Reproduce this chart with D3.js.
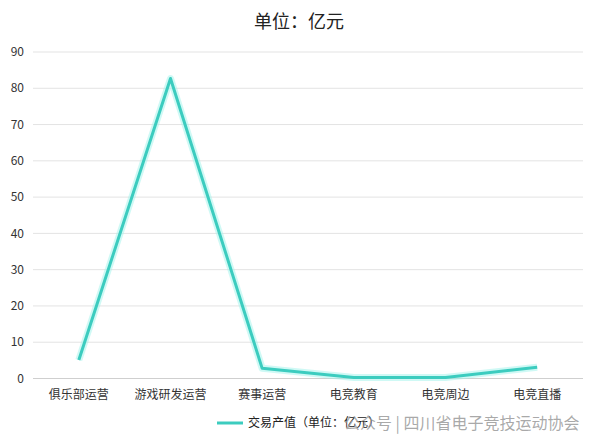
<!doctype html>
<html>
<head>
<meta charset="utf-8">
<style>
  body { margin: 0; background: #fff; }
  text { font-family: "Noto Sans CJK SC", "Noto Sans", sans-serif; }
</style>
<script src="https://d3js.org/d3.v7.min.js"></script>
</head>
<body>
<svg width="599" height="444"></svg>
<script>
var categories = ["俱乐部运营", "游戏研发运营", "赛事运营", "电竞教育", "电竞周边", "电竞直播"];
var values = [5.1, 82.7, 2.8, 0.3, 0.3, 3.1];
var yTicks = [0, 10, 20, 30, 40, 50, 60, 70, 80, 90];
var seriesName = "交易产值（单位：亿元）";

var svg = d3.select("svg");
var plotLeft = 33, plotRight = 583, plotTop = 52, plotBottom = 378.5;

var x = d3.scaleBand().domain(categories).range([plotLeft, plotRight]);
var y = d3.scaleLinear().domain([0, 90]).range([plotBottom, plotTop]);

svg.append("text")
    .attr("x", 299).attr("y", 28)
    .attr("text-anchor", "middle")
    .attr("font-size", "18px")
    .attr("fill", "#222")
    .text("单位：亿元");

// grid
svg.append("g").selectAll("line")
    .data(yTicks).enter().append("line")
    .attr("x1", plotLeft).attr("x2", plotRight)
    .attr("y1", d => y(d)).attr("y2", d => y(d))
    .attr("stroke", d => d === 0 ? "#cfcfcf" : "#e3e3e3")
    .attr("stroke-width", 1);

svg.append("g").selectAll("text")
    .data(yTicks).enter().append("text")
    .attr("x", 24).attr("y", d => y(d))
    .attr("dy", "0.35em")
    .attr("text-anchor", "end")
    .attr("font-size", "12px")
    .attr("fill", "#333")
    .text(d => d);

svg.append("g").selectAll("text")
    .data(categories).enter().append("text")
    .attr("x", d => x(d) + x.bandwidth() / 2)
    .attr("y", 399)
    .attr("text-anchor", "middle")
    .attr("font-size", "12px")
    .attr("fill", "#333")
    .text(d => d);

var line = d3.line()
    .x((d, i) => x(categories[i]) + x.bandwidth() / 2)
    .y(d => y(d));

// soft glow
svg.append("path")
    .datum(values)
    .attr("d", line)
    .attr("fill", "none")
    .attr("stroke", "#9ff3ec")
    .attr("stroke-opacity", 0.5)
    .attr("stroke-width", 7)
    .attr("stroke-linejoin", "round");

svg.append("path")
    .datum(values)
    .attr("d", line)
    .attr("fill", "none")
    .attr("stroke", "#3cccbf")
    .attr("stroke-width", 3)
    .attr("stroke-linejoin", "round");

// legend
svg.append("line")
    .attr("x1", 217).attr("x2", 243)
    .attr("y1", 423).attr("y2", 423)
    .attr("stroke", "#3cccbf").attr("stroke-width", 3);
svg.append("text")
    .attr("x", 248).attr("y", 427)
    .attr("font-size", "12px")
    .attr("fill", "#222")
    .text(seriesName);

// watermark
svg.append("text")
    .attr("x", 344).attr("y", 429)
    .attr("font-size", "16px")
    .attr("fill", "#9a9a9a")
    .attr("fill-opacity", 0.85)
    .text("公众号 | 四川省电子竞技运动协会");
</script>
</body>
</html>
